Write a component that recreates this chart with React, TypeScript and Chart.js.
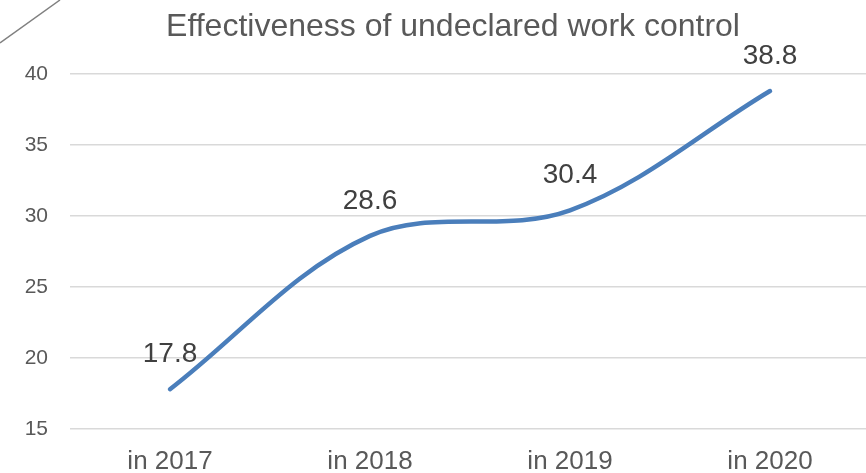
import React, { useEffect, useRef } from "react";
import { Chart, registerables } from "chart.js";

Chart.register(...registerables);

const categories = ["in 2017", "in 2018", "in 2019", "in 2020"];
const values = [17.8, 28.6, 30.4, 38.8];
const yTicks = [15, 20, 25, 30, 35, 40];
const titleText = "Effectiveness of undeclared work control";

const FONT = "'Liberation Sans', Arial, sans-serif";

const labelPlugin = {
  id: "valueLabels",
  afterDatasetsDraw(chart: any) {
    const ctx = chart.ctx;
    const meta = chart.getDatasetMeta(0);
    ctx.save();
    ctx.font = `28px ${FONT}`;
    ctx.fillStyle = "#404040";
    ctx.textAlign = "center";
    ctx.textBaseline = "middle";
    meta.data.forEach((pt: any, i: number) => {
      ctx.fillText(String(values[i]), pt.x, pt.y - 35);
    });
    ctx.restore();
  },
};

const cornerPlugin = {
  id: "cornerLine",
  afterDraw(chart: any) {
    const ctx = chart.ctx;
    ctx.save();
    ctx.strokeStyle = "#808080";
    ctx.lineWidth = 1.5;
    ctx.beginPath();
    ctx.moveTo(0, 43);
    ctx.lineTo(60, 0);
    ctx.stroke();
    ctx.restore();
  },
};

export default function App() {
  const ref = useRef<HTMLCanvasElement | null>(null);
  useEffect(() => {
    if (!ref.current) return;
    const chart = new Chart(ref.current, {
      type: "line",
      data: {
        labels: categories,
        datasets: [
          {
            data: values,
            borderColor: "#4a7ebb",
            borderWidth: 4.5,
            borderCapStyle: "round",
            pointRadius: 0,
            tension: 0.35,
            fill: false,
          },
        ],
      },
      options: {
        animation: false,
        responsive: false,
        maintainAspectRatio: false,
        layout: { padding: 0 },
        plugins: {
          legend: { display: false },
          tooltip: { enabled: false },
          title: {
            display: true,
            text: titleText,
            color: "#595959",
            font: { family: FONT, size: 32, weight: "normal" },
            padding: { top: 8, bottom: 27.6 },
          },
        },
        scales: {
          x: {
            type: "category",
            offset: true,
            grid: { display: false, drawTicks: false },
            border: { display: false },
            ticks: {
              color: "#595959",
              font: { family: FONT, size: 26 },
              padding: 17,
              maxRotation: 0,
            },
            afterFit: (s: any) => {
              s.height = 44;
            },
          },
          y: {
            min: 15,
            max: 40,
            afterBuildTicks: (s: any) => {
              s.ticks = yTicks.map((v) => ({ value: v }));
            },
            grid: { color: "#d9d9d9", lineWidth: 1.5, drawTicks: false },
            border: { display: false },
            ticks: {
              color: "#595959",
              font: { family: FONT, size: 21 },
              padding: 22,
            },
            afterFit: (s: any) => {
              s.width = 70;
            },
          },
          yRight: {
            position: "right",
            display: true,
            min: 15,
            max: 40,
            grid: { display: false, drawTicks: false },
            border: { display: false },
            ticks: { display: false },
            afterFit: (s: any) => {
              s.width = 36;
            },
          },
        },
      },
      plugins: [labelPlugin, cornerPlugin],
    } as any);
    return () => chart.destroy();
  }, []);
  return (
    <div style={{ position: "fixed", left: 0, top: 0, width: 906, height: 473, background: "#fff" }}>
      <canvas ref={ref} width={906} height={473} style={{ width: 906, height: 473 }} />
    </div>
  );
}
